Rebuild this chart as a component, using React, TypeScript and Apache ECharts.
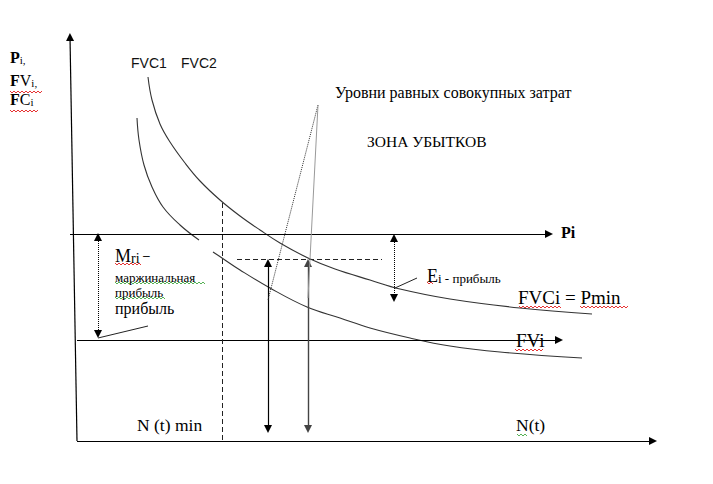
import React, { useEffect, useRef } from "react";
import * as echarts from "echarts";

// Curves (schematic coordinates: x to the right, y downwards)
const fvc2Curve = [[148,77],[152,100],[160,124],[170,142],[185,163],[200,181],[220,200],[240,216],[260,230],[280,243],[308,258],[335,269],[370,280],[400,289],[450,299],[520,308],[592,314]];
const fvc1CurveTop = [[137,118],[139,140],[144,165],[152,187],[163,207],[180,225],[199,240]];
const fvc1CurveBottom = [[213,252],[222,258],[240,270],[270,288],[307,307],[340,318],[370,328],[410,338],[450,346],[500,352],[582,358]];

// Straight elements
const axisArrows = [[[77,441],[70,37]],[[77,441],[653,441]]];
const levelArrows = [[[70,234],[549,234]],[[77,340],[559,340]]];
const dottedDoubleArrows = [[[98,237],[98,334]],[[394,238],[394,298]]];
const blackDoubleArrows = [[[268,263],[268,429]]];
const grayDoubleArrows = [[[308,263],[308,429]]];
const dashedLines = [[[222,203],[222,440]],[[237,259],[382,259]]];
const dottedLines = [[[318,105],[268,300]]];
const grayLines = [[[318,105],[308,298]]];
const pointerLines = [[[98,338],[148,326]],[[395,288],[417,278]]];

// Texts
const curveNames = ["FVC1", "FVC2"];
const levelsTitle = "Уровни равных совокупных затрат";
const lossZone = "ЗОНА УБЫТКОВ";
const mrLines = ["маржинальная", "прибыль", "прибыль"];
const eiText = " - прибыль";
const breakEven = "FVCi = Pmin";
const fvLabel = "FVi";
const piLabel = "Pi";
const nMin = "N (t) min";
const nAxis = "N(t)";

// Spell-check wavy underlines: [x1, x2, y, colour]
const wavyMarks: [number, number, number, string][] = [
  [10, 42, 91, "#e00000"],
  [10, 38, 110, "#e00000"],
  [115, 142, 263, "#e00000"],
  [115, 205, 282, "#2a9d2a"],
  [115, 165, 297, "#2a9d2a"],
  [427, 434, 282, "#e00000"],
  [519, 561, 306, "#e00000"],
  [580, 628, 306, "#e00000"],
  [515, 543, 349, "#e00000"],
  [517, 528, 434, "#2a9d2a"],
];

const SERIF = "Liberation Serif";
const SANS = "Liberation Sans";

function wavyPoints(x1: number, x2: number, y: number) {
  const pts: number[][] = [];
  let up = true;
  for (let x = x1; x <= x2; x += 2) {
    pts.push([x, up ? y : y + 2]);
    up = !up;
  }
  return pts;
}

function linesSeries(data: number[][][], symbol: string[], color: string, type: any, width = 1) {
  return {
    type: "lines",
    coordinateSystem: "cartesian2d",
    symbol,
    symbolSize: 8,
    silent: true,
    lineStyle: { color, type, width, opacity: 1, curveness: 0 },
    data: data.map((c) => ({ coords: c })),
    z: 3,
  };
}

function curveSeries(data: number[][]) {
  return {
    type: "line",
    data,
    smooth: 0.4,
    showSymbol: false,
    symbol: "none",
    silent: true,
    lineStyle: { color: "#333", width: 1.1 },
    z: 2,
  };
}

const tok = (size: number, weight = "normal", family = SERIF, fill = "#000") => ({
  fontFamily: family,
  fontSize: size,
  fontWeight: weight,
  lineHeight: size,
  verticalAlign: "bottom",
  fill,
});

function txt(x: number, y: number, text: string, rich: any) {
  return {
    type: "text",
    x,
    y,
    silent: true,
    style: {
      text,
      rich,
      fill: "#000",
      align: "left",
      verticalAlign: "middle",
    },
    z: 10,
  };
}

// single-style text
function plain(x: number, y: number, text: string, size: number, weight = "normal", family = SERIF, fill = "#000") {
  return txt(x, y, "{t|" + text + "}", { t: tok(size, weight, family, fill) });
}

export default function App() {
  const ref = useRef<HTMLDivElement>(null);
  useEffect(() => {
    if (!ref.current) return;
    const chart = echarts.init(ref.current, undefined, { renderer: "svg" });
    const rich = {
      b: tok(16, "bold"),
      r: tok(16),
      s: tok(11),
      M: tok(18),
      m: tok(14),
      E: tok(18),
      i: tok(13),
      e: tok(13),
    };
    const graphics: any[] = [
      txt(10, 57, "{b|P}{s|i,}", rich),
      txt(10, 80, "{b|F}{r|V}{s|i,}", rich),
      txt(10, 99, "{b|F}{r|C}{s|i}", rich),
      plain(131, 63, curveNames[0], 14, "normal", SANS, "#111"),
      plain(181, 63, curveNames[1], 14, "normal", SANS, "#111"),
      plain(335, 92, levelsTitle, 16),
      plain(367, 142, lossZone, 15.5),
      txt(115, 256, "{M|M}{m|ri} –", rich),
      plain(115, 277, mrLines[0], 13),
      plain(115, 292, mrLines[1], 13),
      plain(115, 308, mrLines[2], 16),
      txt(427, 276, "{E|E}{i|i}{e|" + eiText + "}", rich),
      plain(518, 297, breakEven, 19),
      plain(516, 340, fvLabel, 19),
      plain(561, 232, piLabel, 16, "bold"),
      plain(137, 425, nMin, 17.5),
      plain(516, 425, nAxis, 17.5),
      ...wavyMarks.map(([x1, x2, y, c]) => ({
        type: "polyline",
        silent: true,
        shape: { points: wavyPoints(x1, x2, y) },
        style: { stroke: c, lineWidth: 0.8, fill: null },
        z: 9,
      })),
    ];
    chart.setOption({
      animation: false,
      backgroundColor: "#ffffff",
      grid: { left: 0, right: 0, top: 0, bottom: 0 },
      xAxis: { type: "value", min: 0, max: 713, show: false },
      yAxis: { type: "value", min: 0, max: 484, inverse: true, show: false },
      series: [
        curveSeries(fvc2Curve),
        curveSeries(fvc1CurveTop),
        curveSeries(fvc1CurveBottom),
        linesSeries(axisArrows, ["none", "triangle"], "#000", "solid", 1.2),
        linesSeries(levelArrows, ["none", "triangle"], "#000", "solid", 1.1),
        linesSeries(dottedDoubleArrows, ["triangle", "triangle"], "#000", "dotted", 1),
        linesSeries(blackDoubleArrows, ["triangle", "triangle"], "#000", "solid", 1.2),
        linesSeries(grayDoubleArrows, ["triangle", "triangle"], "#444", "solid", 1.4),
        linesSeries(dashedLines, ["none", "none"], "#222", [5, 3], 1),
        linesSeries(dottedLines, ["none", "none"], "#333", "dotted", 1),
        linesSeries(grayLines, ["none", "none"], "#999", "solid", 1),
        linesSeries(pointerLines, ["none", "none"], "#222", "solid", 1),
      ],
      graphic: graphics,
    });
    return () => chart.dispose();
  }, []);
  return (
    <div
      ref={ref}
      style={{ position: "fixed", left: 0, top: 0, width: 713, height: 484, background: "#fff" }}
    />
  );
}
